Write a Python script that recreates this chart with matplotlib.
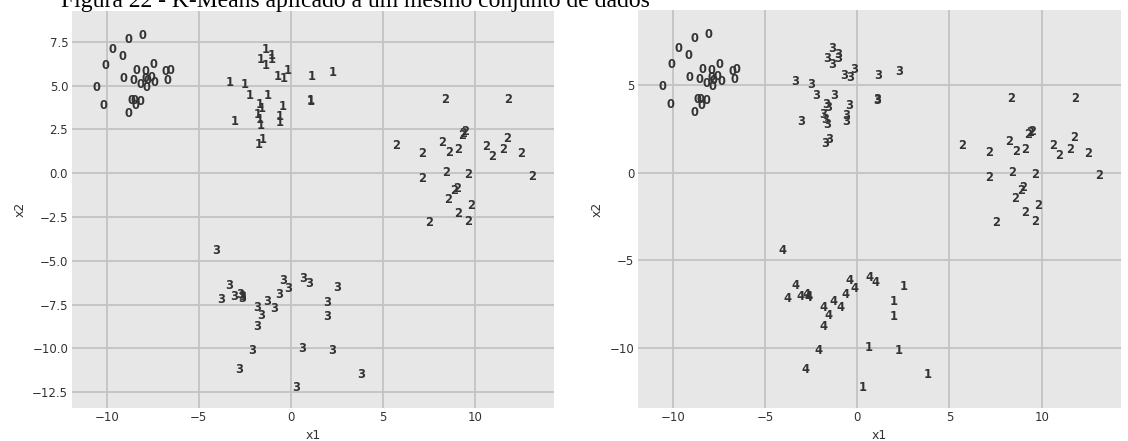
import matplotlib
matplotlib.use("Agg")
import matplotlib.pyplot as plt

# ---- data ----
x_c0 = [-8.83, -8.04, -9.70, -9.17, -10.09, -7.47, -8.37, -7.92, -6.79, -6.54, -9.10, -8.55, -7.92,
        -7.59, -7.38, -8.17, -7.86, -6.68, -7.77, -10.57, -10.15, -8.68, -8.50, -8.19, -8.45, -8.84]
y_c0 = [7.64, 7.85, 7.07, 6.65, 6.16, 6.18, 5.85, 5.80, 5.78, 5.85, 5.42, 5.28, 5.42,
        5.48, 5.19, 5.08, 4.88, 5.28, 5.27, 4.92, 3.88, 4.18, 4.16, 4.12, 3.84, 3.40]

x_c1 = [-1.36, -1.61, -1.05, -1.34, -1.03, -0.71, -0.40, -0.18, 1.14, 2.26, -3.34, -2.48, -2.21, -1.25,
        1.09, 1.09, -1.67, -1.58, -0.43, -1.82, -0.58, -3.03, -1.71, -1.63, -0.58, -1.52, -1.76]
y_c1 = [7.07, 6.50, 6.71, 6.14, 6.52, 5.51, 5.42, 5.85, 5.51, 5.76, 5.19, 5.04, 4.41, 4.41,
        4.18, 4.08, 3.90, 3.71, 3.80, 3.33, 3.23, 2.94, 3.04, 2.72, 2.91, 1.90, 1.65]

x_c2 = [9.47, 9.29, 9.38, 5.71, 8.21, 8.62, 9.08, 7.15, 10.61, 10.92, 11.74, 11.55, 12.50,
        7.15, 8.42, 9.65, 13.10, 9.02, 8.88, 8.57, 9.80, 9.08, 9.65, 7.52, 8.37, 11.82]
y_c2 = [2.37, 2.18, 2.28, 1.56, 1.77, 1.20, 1.33, 1.14, 1.52, 0.95, 2.00, 1.33, 1.10,
        -0.29, 0.03, -0.10, -0.19, -0.86, -0.99, -1.48, -1.87, -2.28, -2.76, -2.82, 4.22, 4.22]

x_c3 = [-4.06, -3.34, -3.80, -3.08, -2.76, -2.63, -2.66, -0.43, -0.13, -0.64, 0.68, 0.99, 2.50,
        -1.30, -0.91, -1.85, -1.58, -1.82, 1.99, 1.99, -2.12, 0.60, 2.23, -2.81, 3.80, 0.27]
y_c3 = [-4.41, -6.41, -7.19, -7.04, -6.94, -7.13, -7.06, -6.14, -6.60, -6.94, -5.99, -6.28, -6.50,
        -7.32, -7.70, -7.67, -8.14, -8.75, -7.36, -8.18, -10.12, -9.98, -10.14, -11.18, -11.47, -12.21]

# labels: left = 4 clusters, right = 5 clusters
lab_left = (["0"] * len(x_c0) + ["1"] * len(x_c1) + ["2"] * len(x_c2) + ["3"] * len(x_c3))
lab_c3_right = ["4", "4", "4", "4", "4", "4", "4", "4", "4", "4", "4", "4", "1",
                "4", "4", "4", "4", "4", "1", "1", "4", "1", "1", "4", "1", "1"]
lab_right = (["0"] * len(x_c0) + ["3"] * len(x_c1) + ["2"] * len(x_c2) + lab_c3_right)

xs = x_c0 + x_c1 + x_c2 + x_c3
ys = y_c0 + y_c1 + y_c2 + y_c3

xticks = [-10, -5, 0, 5, 10]
yticks_left = [7.5, 5.0, 2.5, 0.0, -2.5, -5.0, -7.5, -10.0, -12.5]
yticks_right = [5, 0, -5, -10]
title = "Figura 22 - K-Means aplicado a um mesmo conjunto de dados"

# ---- figure ----
W, H = 1128, 441
fig = plt.figure(figsize=(W / 100, H / 100), dpi=100)
fig.patch.set_facecolor("white")

ax1 = fig.add_axes([71.7 / W, 1 - 408 / H, (554 - 71.7) / W, (408 - 11) / H])
ax2 = fig.add_axes([637.7 / W, 1 - 408 / H, (1121 - 637.7) / W, (408 - 10) / H])

BG = "#e7e7e7"
GRID = "#c3c3c3"
TXT = "#333333"

for ax, labs, yt in ((ax1, lab_left, yticks_left), (ax2, lab_right, yticks_right)):
    ax.set_facecolor(BG)
    for s in ax.spines.values():
        s.set_visible(False)
    for xi, yi, lb in zip(xs, ys, labs):
        ax.text(xi, yi, lb, ha="center", va="center", fontsize=8.3,
                fontweight="bold", color="#333333", family="DejaVu Sans")
    ax.set_xlim(-11.9, 14.3)
    ax.set_ylim(-13.4, 9.26)
    ax.set_xticks(xticks)
    ax.set_xticklabels([("\u2212" + str(abs(v))) if v < 0 else str(v) for v in xticks])
    ax.set_yticks(yt)
    if ax is ax1:
        ax.set_yticklabels([("\u2212%.1f" % abs(v)) if v < 0 else "%.1f" % v for v in yt])
    else:
        ax.set_yticklabels([("\u2212%d" % abs(v)) if v < 0 else "%d" % v for v in yt])
    ax.grid(True, color=GRID, linewidth=1.3)
    ax.set_axisbelow(True)
    ax.tick_params(axis="both", which="both", length=0, labelsize=8.5,
                   labelcolor=TXT, pad=2.5)
    ax.set_xlabel("x1", fontsize=9, color=TXT, labelpad=3)
    ax.set_ylabel("x2", fontsize=9, color=TXT, labelpad=4)

# title, partially clipped at the top as in the reference
t = fig.text(61 / W, 1 - 6.5 / H, title, ha="left", va="baseline",
             family="Liberation Serif", fontsize=18, color="black")
fig.canvas.draw()
wpx = t.get_window_extent().width
t.set_fontsize(18 * 590 / wpx)

fig.savefig("out.png", dpi=100, facecolor="white")
